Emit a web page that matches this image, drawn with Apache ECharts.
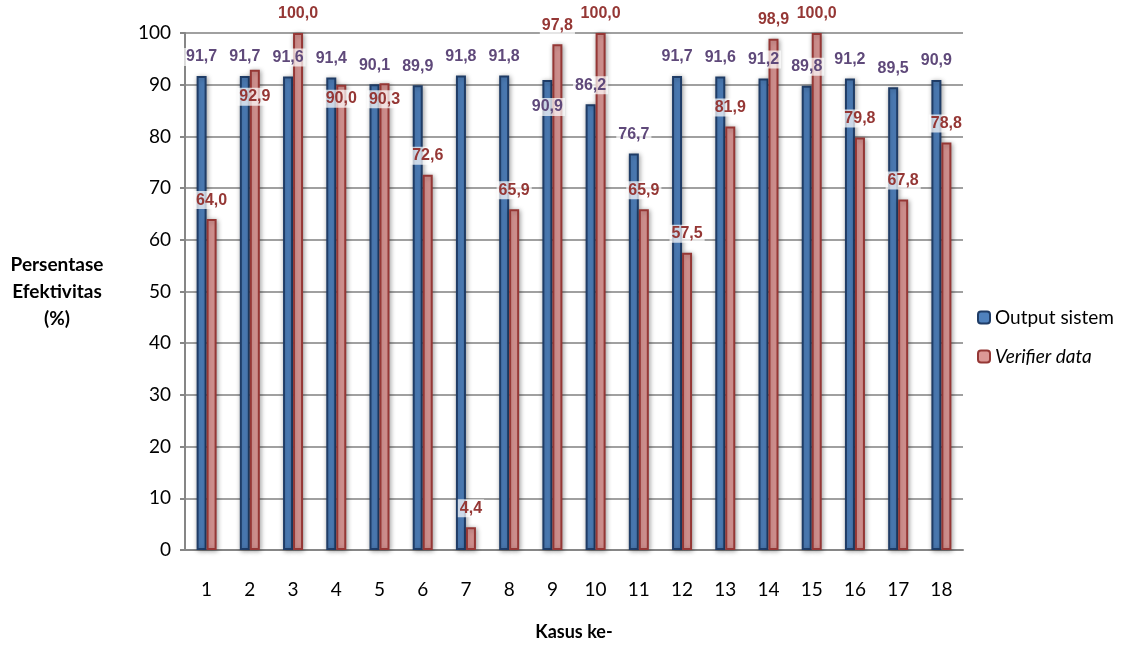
<!DOCTYPE html>
<html>
<head>
<meta charset="utf-8">
<script src="https://cdn.jsdelivr.net/npm/echarts@6/dist/echarts.min.js"></script>
<style>
html,body{margin:0;padding:0;background:#fff;}
#chart{width:1126px;height:646px;}
</style>
</head>
<body>
<div id="chart"></div>
<script>
const categories = ['1','2','3','4','5','6','7','8','9','10','11','12','13','14','15','16','17','18'];
const outputSistem = [91.7, 91.7, 91.6, 91.4, 90.1, 89.9, 91.8, 91.8, 90.9, 86.2, 76.7, 91.7, 91.6, 91.2, 89.8, 91.2, 89.5, 90.9];
const verifierData = [64.0, 92.9, 100.0, 90.0, 90.3, 72.6, 4.4, 65.9, 97.8, 100.0, 65.9, 57.5, 81.9, 98.9, 100.0, 79.8, 67.8, 78.8];
const yTicks = [0, 10, 20, 30, 40, 50, 60, 70, 80, 90, 100];

// label nudges (pixels, downward) where labels were moved to avoid overlap
const outputLabelNudge = {8: 46};
const verifierLabelNudge = {1: 46, 3: 33, 4: 35};

const FONT = 'Lato, "Open Sans", sans-serif';
const fmt = p => p.value.toFixed(1).replace('.', ',');

function buildData(values, nudges) {
  return values.map((v, i) => nudges[i] !== undefined ? {value: v, label: {offset: [0, nudges[i]]}} : v);
}

const labelBase = {
  show: true,
  position: 'top',
  distance: 10,
  formatter: fmt,
  fontFamily: 'Liberation Sans, Arial, sans-serif',
  fontWeight: 'bold',
  fontSize: 16,
  backgroundColor: 'rgba(255,255,255,0.72)',
  padding: [1, 2]
};

const chart = echarts.init(document.getElementById('chart'), null, {renderer: 'canvas'});
chart.setOption({
  animation: false,
  backgroundColor: '#ffffff',
  grid: {left: 185, right: 163, top: 33, bottom: 96, containLabel: false, outerBoundsMode: 'none'},
  legend: {
    orient: 'vertical',
    left: 972,
    top: 303,
    itemWidth: 12,
    itemHeight: 12,
    itemGap: 20,
    textStyle: {fontFamily: FONT, fontSize: 19, color: '#000',
      rich: {i: {fontFamily: FONT, fontSize: 19, fontStyle: 'italic', color: '#000'}}},
    formatter: name => name === 'Verifier data' ? '{i|' + name + '}' : name,
    data: ['Output sistem', 'Verifier data']
  },
  xAxis: {
    type: 'category',
    data: categories,
    name: 'Kasus ke-',
    nameLocation: 'middle',
    nameGap: 73,
    nameTextStyle: {fontFamily: FONT, fontWeight: 'bold', fontSize: 18, color: '#000'},
    axisLine: {lineStyle: {color: '#868686', width: 2}},
    axisTick: {show: false},
    axisLabel: {fontFamily: FONT, fontSize: 19, color: '#000', margin: 30}
  },
  yAxis: {
    type: 'value',
    min: yTicks[0],
    max: yTicks[yTicks.length - 1],
    interval: 10,
    name: 'Persentase\nEfektivitas\n(%)',
    nameLocation: 'middle',
    nameRotate: 0,
    nameGap: 128,
    nameTextStyle: {fontFamily: FONT, fontWeight: 'bold', fontSize: 19, color: '#000', lineHeight: 27, align: 'center', verticalAlign: 'middle', padding: [28, 0, 0, 0]},
    axisLine: {show: true, lineStyle: {color: '#868686', width: 2}},
    axisTick: {show: true, length: 5, lineStyle: {color: '#868686', width: 2}},
    axisLabel: {fontFamily: FONT, fontSize: 19, color: '#000', margin: 14},
    splitLine: {lineStyle: {color: '#a0a0a0', width: 2}}
  },
  series: [
    {
      name: 'Output sistem',
      type: 'bar',
      barWidth: 10,
      barGap: '0%',
      data: buildData(outputSistem, outputLabelNudge),
      itemStyle: {color: '#4f81bd', borderColor: '#1f3c66', borderWidth: 2,
        shadowBlur: 5, shadowColor: 'rgba(0,0,0,0.35)', shadowOffsetX: 1, shadowOffsetY: 1},
      label: Object.assign({}, labelBase, {color: '#5f497a'})
    },
    {
      name: 'Verifier data',
      type: 'bar',
      barWidth: 10,
      barGap: '0%',
      data: buildData(verifierData, verifierLabelNudge),
      itemStyle: {color: '#dc9896', borderColor: '#953735', borderWidth: 2,
        shadowBlur: 5, shadowColor: 'rgba(0,0,0,0.35)', shadowOffsetX: 1, shadowOffsetY: 1},
      label: Object.assign({}, labelBase, {color: '#953735'})
    }
  ]
});
</script>
</body>
</html>
